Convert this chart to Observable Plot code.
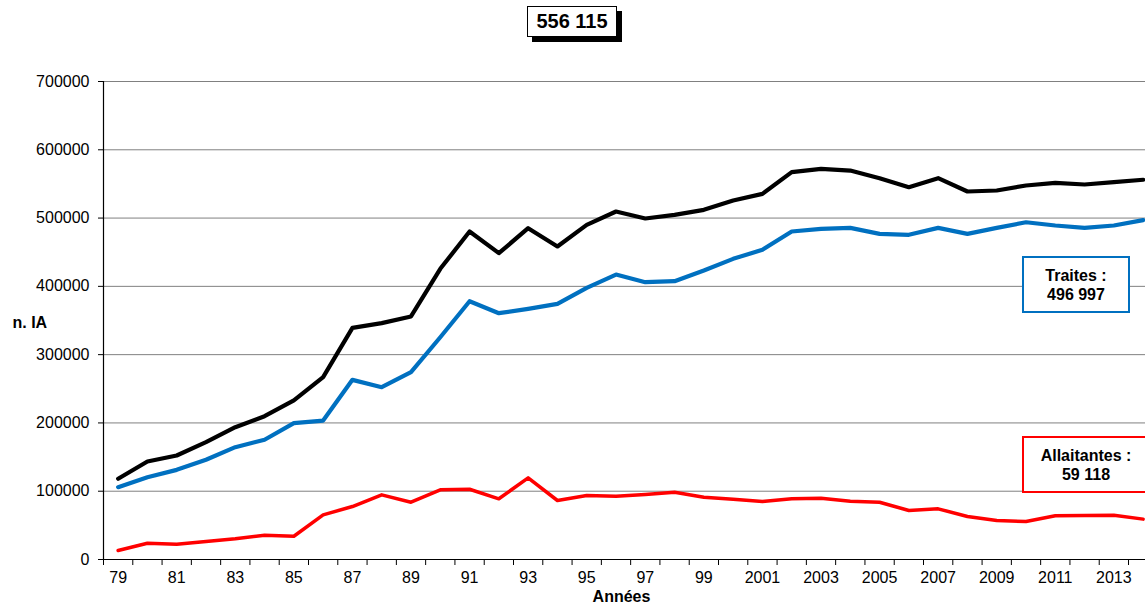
<!DOCTYPE html>
<html><head><meta charset="utf-8">
<script src="https://cdn.jsdelivr.net/npm/d3@7"></script>
<script src="https://cdn.jsdelivr.net/npm/@observablehq/plot@0.6"></script>
<style>
body{margin:0;background:#fff;font-family:"Liberation Sans",Arial,sans-serif;}
#wrap{position:relative;width:1145px;height:611px;overflow:hidden;}
.box{position:absolute;background:#fff;font-weight:bold;text-align:center;color:#000;box-sizing:border-box;}
#title{left:527px;top:6px;width:90px;height:31px;border:1px solid #000;box-shadow:5px 5px 0 #000;font-size:20px;line-height:29px;}
#traites{left:1022px;top:256px;width:108px;height:57px;border:2.5px solid #0070C0;font-size:16px;line-height:19px;padding-top:8px;}
#allait{left:1022px;top:436px;width:128px;height:57px;border:2.5px solid #FF0000;font-size:16px;line-height:19px;padding-top:8px;}
</style></head>
<body><div id="wrap"></div>
<script>
const years = d3.range(1979, 2015);
const total = [118200,143500,152300,171800,193800,209900,232900,267000,339300,346100,355900,425700,480300,448600,485200,458400,490100,509600,499400,504700,512100,525700,535500,567200,572100,569600,558400,545200,558400,538900,540400,547700,551600,549200,552600,556115];
const traites = [105900,120500,131300,146000,164500,175300,199600,203500,263100,252300,274300,325500,378200,360700,367100,374400,397900,417300,406100,407600,423200,440300,453500,480300,484200,485700,476900,475500,485700,476900,485700,493900,489100,485700,489100,496997];
const allaitantes = [13200,23900,22400,26400,30300,35600,34100,65400,77600,94700,83900,102100,102900,88900,119600,86400,93700,92700,95200,98600,91200,88300,84900,88900,89800,85400,83900,71700,74200,63000,57100,55600,64000,64400,64900,59118];
const yTicks = [0,100000,200000,300000,400000,500000,600000,700000];
const labelYears = d3.range(1979, 2015, 2);
const yearLabels = ["79","81","83","85","87","89","91","93","95","97","99","2001","2003","2005","2007","2009","2011","2013"];
const titleText = "556 115";
const traitesLabel = ["Traites :", "496 997"];
const allaitLabel = ["Allaitantes :", "59 118"];

const rows = (arr) => years.map((y, i) => ({year: y, v: arr[i]}));
const boundaries = d3.range(1978.5, 2015, 1);

const chart = Plot.plot({
  width: 1145, height: 611,
  marginLeft: 103, marginRight: 0, marginTop: 81, marginBottom: 52,
  style: {fontFamily: "Liberation Sans, Arial, sans-serif", fontSize: "16px", color: "#000", background: "#fff"},
  x: {domain: [1978.5, 2014.08]},
  y: {domain: [0, 700000]},
  marks: [
    Plot.gridY(yTicks.filter(d => d > 0), {stroke: "#808080", strokeOpacity: 1, strokeWidth: 1}),
    Plot.axisY({ticks: yTicks, tickFormat: d => String(d), tickSize: 5, tickPadding: 9, label: null, fontSize: 16}),
    Plot.axisX({ticks: boundaries, tickFormat: () => "", tickSize: 6, label: null}),
    Plot.axisX({ticks: labelYears, tickFormat: (d) => yearLabels[labelYears.indexOf(d)], tickSize: 0, tickPadding: 12, label: null, fontSize: 16}),
    Plot.ruleX([1978.5], {stroke: "#000", strokeWidth: 1.2}),
    Plot.ruleY([0], {stroke: "#000", strokeWidth: 1.2}),
    Plot.line(rows(allaitantes), {x: "year", y: "v", stroke: "#FF0000", strokeWidth: 3.5}),
    Plot.line(rows(traites), {x: "year", y: "v", stroke: "#0070C0", strokeWidth: 4.2}),
    Plot.line(rows(total), {x: "year", y: "v", stroke: "#000", strokeWidth: 4.2}),
    Plot.text(["Années"], {frameAnchor: "bottom", dy: 42, dx: -3, fontWeight: "bold", fontSize: 16}),
    Plot.text(["n. IA"], {frameAnchor: "left", dx: -91, textAnchor: "start", fontWeight: "bold", fontSize: 16, dy: 2})
  ]
});
const wrap = document.getElementById("wrap");
wrap.appendChild(chart);
function addBox(id, lines) {
  const d = document.createElement("div");
  d.className = "box"; d.id = id;
  d.innerHTML = lines.join("<br>");
  wrap.appendChild(d);
}
addBox("title", [titleText]);
addBox("traites", traitesLabel);
addBox("allait", allaitLabel);
</script></body></html>
